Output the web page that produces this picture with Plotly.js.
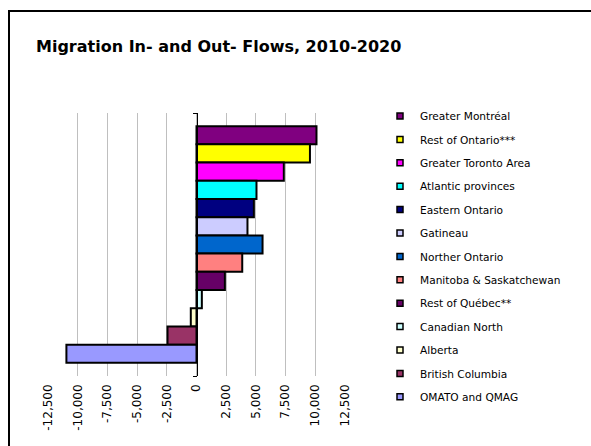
<!DOCTYPE html>
<html>
<head>
<meta charset="utf-8">
<script src="https://cdn.plot.ly/plotly-3.0.1.min.js"></script>
<style>
html, body { margin: 0; padding: 0; background: #fff; overflow: hidden; }
#wrap { position: relative; width: 591px; height: 446px; }
#chart { position: absolute; left: 0; top: 0; width: 591px; height: 446px; }
#frame { position: absolute; left: 8px; top: 10px; width: 640px; height: 500px; border: 2px solid #000; pointer-events: none; }
</style>
</head>
<body>
<div id="wrap">
<div id="chart"></div>
<div id="frame"></div>
</div>
<script>
// Data
const regions = ["Greater Montréal", "Rest of Ontario***", "Greater Toronto Area", "Atlantic provinces",
  "Eastern Ontario", "Gatineau", "Norther Ontario", "Manitoba & Saskatchewan", "Rest of Québec**",
  "Canadian North", "Alberta", "British Columbia", "OMATO and QMAG"];
const netFlows = [10100, 9550, 7350, 5050, 4830, 4290, 5560, 3850, 2390, 450, -480, -2440, -10950];
const tickValues = [-12500, -10000, -7500, -5000, -2500, 0, 2500, 5000, 7500, 10000, 12500];
const tickLabels = ["-12,500", "-10,000", "-7,500", "-5,000", "-2,500", "0", "2,500", "5,000", "7,500", "10,000", "12,500"];
const category = ["2010-2020"];

// Styles
const colors = ["#800080", "#FFFF00", "#FF00FF", "#00FFFF", "#000080", "#CCCCFF", "#0066CC", "#FF8080",
  "#660066", "#CCFFFF", "#FFFFCC", "#993366", "#9999FF"];
const FONT = "DejaVu Sans, Verdana, sans-serif";

const traces = [];
regions.forEach((name, i) => {
  traces.push({
    type: "bar", orientation: "h", name: name,
    x: [netFlows[i]], y: category,
    marker: { color: colors[i], line: { color: "#000", width: 2 } },
    legendgroup: "g" + i, showlegend: false, hoverinfo: "name+x"
  });
  traces.push({
    type: "scatter", mode: "markers", name: name,
    x: [null], y: [null],
    marker: { symbol: "square", size: 6, color: colors[i], line: { color: "#000", width: 1.5 } },
    legendgroup: "g" + i, showlegend: true, hoverinfo: "skip"
  });
});

const layout = {
  width: 591, height: 446,
  paper_bgcolor: "#fff", plot_bgcolor: "#fff",
  margin: { l: 48, r: 246, t: 113, b: 70 },
  font: { family: FONT, color: "#000" },
  title: {
    text: "<b>Migration In- and Out- Flows, 2010-2020</b>",
    font: { family: FONT, size: 16, color: "#000" },
    xref: "container", x: 36 / 591, xanchor: "left",
    yref: "container", y: 1 - 46 / 446, yanchor: "middle"
  },
  barmode: "group", bargap: 0.1, bargroupgap: 0,
  showlegend: true,
  legend: {
    xref: "container", yref: "container",
    x: 380 / 591, xanchor: "left",
    y: 1 - 101.5 / 446, yanchor: "top",
    maxheight: 1000,
    traceorder: "grouped", tracegroupgap: 4.4,
    font: { family: FONT, size: 10.6, color: "#000" },
    bgcolor: "rgba(0,0,0,0)", borderwidth: 0
  },
  xaxis: {
    range: [-12500, 12500], tickmode: "array", tickvals: tickValues, ticktext: tickLabels,
    tickangle: -90, tickfont: { family: FONT, size: 12, color: "#000" },
    ticklabelstandoff: 5,
    showgrid: true, gridcolor: "#bfbfbf", gridwidth: 1,
    zeroline: false, showline: false, ticks: "", fixedrange: true
  },
  yaxis: {
    type: "category", autorange: "reversed",
    showticklabels: false, showgrid: false, zeroline: false,
    showline: true, linecolor: "#000", linewidth: 1,
    ticks: "outside", tickson: "boundaries", ticklen: 4, tickcolor: "#000",
    anchor: "free", position: 0.5, fixedrange: true
  }
};

Plotly.newPlot("chart", traces, layout, { displayModeBar: false, staticPlot: true });
</script>
</body>
</html>
